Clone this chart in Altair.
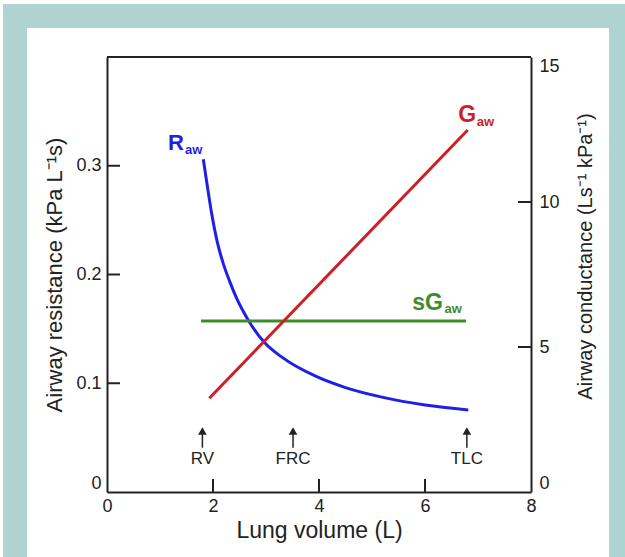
import altair as alt
import pandas as pd

# ---------------- data ----------------
raw_vol = [1.817, 1.90, 1.975, 2.08, 2.194, 2.32, 2.447, 2.666, 2.981, 3.30, 3.957, 4.50, 5.208, 6.00, 6.817]
raw_res = [0.306, 0.279, 0.256, 0.230, 0.210, 0.193, 0.178, 0.158, 0.137, 0.124, 0.106, 0.096, 0.087, 0.080, 0.0754]

gaw_vol = [1.930, 6.806]
gaw_val = [3.231, 12.48]

sgaw_vol = [1.774, 6.774]
sgaw_val = [5.897, 5.897]

marker_names = ["RV", "FRC", "TLC"]
marker_vol = [1.80, 3.51, 6.79]

x_ticks = [0, 2, 4, 6, 8]
left_ticks = [0, 0.1, 0.2, 0.3]
right_ticks = [0, 5, 10, 15]

BLUE = "#1f1fe8"
RED = "#cc1f26"
GREEN = "#3f8c2c"
TEAL = "#aed3d0"
INK = "#222222"
FONT = "Liberation Sans"

W, H = 424, 435

# ---------------- scales / axes ----------------
xs = alt.Scale(domain=[0, 8], nice=False, zero=False)
ls = alt.Scale(domain=[0, 0.4], nice=False)
rs = alt.Scale(domain=[0, 15], nice=False)

x_axis = alt.Axis(values=x_ticks, ticks=False, grid=False, domain=True, domainColor=INK,
                  domainWidth=2, labelFontSize=18, labelFont=FONT, labelColor=INK,
                  labelPadding=5, labelFlush=False, title="Lung volume (L)",
                  titleFontSize=23, titleFont=FONT, titleFontWeight="normal", titleColor=INK,
                  titleBaseline="middle", titleY=38, zindex=1)
left_axis = alt.Axis(values=left_ticks, ticks=False, grid=False, domain=True, domainColor=INK,
                     domainWidth=2, labelFontSize=18, labelFont=FONT, labelColor=INK,
                     labelPadding=6, labelFlush=True,
                     labelExpr="datum.value == 0 ? '0' : format(datum.value, '.1f')",
                     title="Airway resistance (kPa L⁻¹s)", titleFontSize=22, titleFont=FONT,
                     titleFontWeight="normal", titleColor=INK, titleAngle=270,
                     titleBaseline="middle", titleAlign="center", titleX=-53, titleY=H / 2,
                     zindex=1)
right_axis = alt.Axis(orient="right", values=right_ticks, ticks=False, grid=False, domain=True,
                      domainColor=INK, domainWidth=2, labelFontSize=18, labelFont=FONT,
                      labelColor=INK, labelPadding=8, labelFlush=True,
                      title="Airway conductance (Ls⁻¹ kPa⁻¹)", titleFontSize=20, titleFont=FONT,
                      titleFontWeight="normal", titleColor=INK, titleAngle=270,
                      titleBaseline="middle", titleAlign="center", titleX=54, titleY=199,
                      zindex=1)

X = lambda f: alt.X(f, type="quantitative", scale=xs, axis=x_axis)
YL = lambda f: alt.Y(f, type="quantitative", scale=ls, axis=left_axis)
YR = lambda f: alt.Y(f, type="quantitative", scale=rs, axis=right_axis)

one = pd.DataFrame({"k": [0]})

# ---------------- decoration ----------------
bg_teal = alt.Chart(one).mark_rect(color=TEAL).encode(
    x=alt.value(-104), x2=alt.value(518), y=alt.value(-53), y2=alt.value(500))
bg_white = alt.Chart(one).mark_rect(color="white").encode(
    x=alt.value(-80), x2=alt.value(502), y=alt.value(-29), y2=alt.value(500))
top_frame = alt.Chart(one).mark_rule(color=INK, strokeWidth=2).encode(
    x=alt.value(0), x2=alt.value(W), y=alt.value(0))

# ---------------- left-scale group ----------------
raw_df = pd.DataFrame({"v": raw_vol, "yl": raw_res})
raw_line = alt.Chart(raw_df).mark_line(color=BLUE, strokeWidth=3, interpolate="monotone").encode(
    x=X("v"), y=YL("yl"))

xt_df = pd.DataFrame({"v": x_ticks[1:-1]})
x_tick_marks = alt.Chart(xt_df).mark_rule(color=INK, strokeWidth=2).encode(
    x=X("v"), y=alt.value(H), y2=alt.value(H - 13))

lt_df = pd.DataFrame({"v": [0] * 3, "yl": left_ticks[1:]})
left_tick_marks = alt.Chart(lt_df).mark_rule(color=INK, strokeWidth=2).encode(
    y=YL("yl"), x=alt.value(0), x2=alt.value(13))

mk_df = pd.DataFrame({"v": marker_vol, "name": marker_names,
                      "y0": [0.0407] * 3, "y1": [0.0533] * 3, "yh": [0.0561] * 3, "yt": [0.0303] * 3})
shafts = alt.Chart(mk_df).mark_rule(color=INK, strokeWidth=1.5).encode(
    x=X("v"), y=YL("y0"), y2="y1:Q")
heads = alt.Chart(mk_df).mark_point(shape="triangle-up", filled=True, color=INK, size=75, opacity=1).encode(
    x=X("v"), y=YL("yh"))
mk_text = alt.Chart(mk_df).mark_text(font=FONT, fontSize=17, color=INK, baseline="middle", align="center").encode(
    x=X("v"), y=YL("yt"), text="name:N")

r_big = alt.Chart(pd.DataFrame({"v": [1.151], "yl": [0.3145], "t": ["R"]})).mark_text(
    font=FONT, fontSize=22, fontWeight="bold", color=BLUE, align="left", baseline="alphabetic").encode(
    x=X("v"), y=YL("yl"), text="t:N")
r_sub = alt.Chart(pd.DataFrame({"v": [1.472], "yl": [0.3105], "t": ["aw"]})).mark_text(
    font=FONT, fontSize=13, fontWeight="bold", color=BLUE, align="left", baseline="alphabetic").encode(
    x=X("v"), y=YL("yl"), text="t:N")

left_group = alt.layer(raw_line, x_tick_marks, left_tick_marks, shafts, heads, mk_text, r_big, r_sub)

# ---------------- right-scale group ----------------
gaw_df = pd.DataFrame({"v": gaw_vol, "yr": gaw_val})
gaw_line = alt.Chart(gaw_df).mark_line(color=RED, strokeWidth=3).encode(x=X("v"), y=YR("yr"))
sgaw_df = pd.DataFrame({"v": sgaw_vol, "yr": sgaw_val})
sgaw_line = alt.Chart(sgaw_df).mark_line(color=GREEN, strokeWidth=3).encode(x=X("v"), y=YR("yr"))

rt_df = pd.DataFrame({"yr": right_ticks[1:-1]})
right_tick_marks = alt.Chart(rt_df).mark_rule(color=INK, strokeWidth=2).encode(
    y=YR("yr"), x=alt.value(W - 13), x2=alt.value(W))

g_big = alt.Chart(pd.DataFrame({"v": [6.628], "yr": [12.77], "t": ["G"]})).mark_text(
    font=FONT, fontSize=23, fontWeight="bold", color=RED, align="left", baseline="alphabetic").encode(
    x=X("v"), y=YR("yr"), text="t:N")
g_sub = alt.Chart(pd.DataFrame({"v": [6.975], "yr": [12.62], "t": ["aw"]})).mark_text(
    font=FONT, fontSize=13, fontWeight="bold", color=RED, align="left", baseline="alphabetic").encode(
    x=X("v"), y=YR("yr"), text="t:N")
s_big = alt.Chart(pd.DataFrame({"v": [5.76], "yr": [6.276], "t": ["sG"]})).mark_text(
    font=FONT, fontSize=23, fontWeight="bold", color=GREEN, align="left", baseline="alphabetic").encode(
    x=X("v"), y=YR("yr"), text="t:N")
s_sub = alt.Chart(pd.DataFrame({"v": [6.37], "yr": [6.183], "t": ["aw"]})).mark_text(
    font=FONT, fontSize=13, fontWeight="bold", color=GREEN, align="left", baseline="alphabetic").encode(
    x=X("v"), y=YR("yr"), text="t:N")

right_group = alt.layer(sgaw_line, gaw_line, right_tick_marks, g_big, g_sub, s_big, s_sub)

chart = alt.layer(bg_teal, bg_white, top_frame, left_group, right_group).resolve_scale(
    y="independent").properties(
    width=W, height=H,
    autosize=alt.AutoSizeParams(type="none"),
    padding={"left": 107, "top": 57, "right": 94, "bottom": 65},
    background="white",
).configure_view(stroke=None)

chart.save("out.html", embed_options={"renderer": "svg", "actions": False})
